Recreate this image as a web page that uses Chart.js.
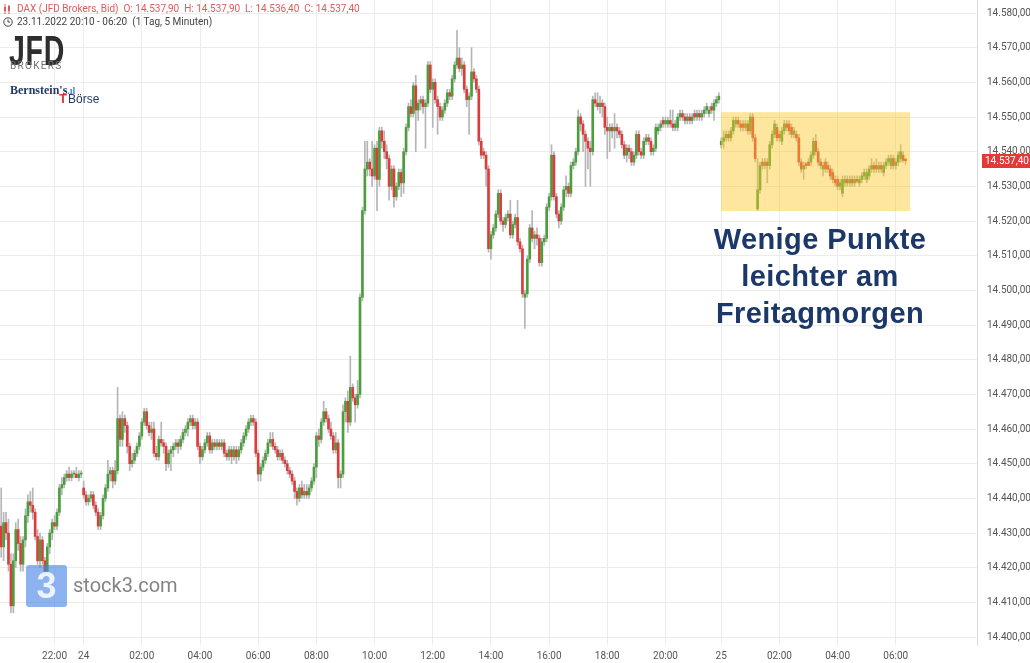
<!DOCTYPE html>
<html lang="de">
<head>
<meta charset="utf-8">
<title>DAX 5 Minuten</title>
<script src="https://cdn.jsdelivr.net/npm/chart.js@4.4.1/dist/chart.umd.min.js"></script>
<style>
  html, body { margin: 0; padding: 0; background: #fff; }
  #wrap { position: relative; width: 1030px; height: 663px; overflow: hidden; font-family: "Roboto", "Liberation Sans", sans-serif; }
  #chart { position: absolute; left: 0; top: 0; }
  .hdr { position: absolute; left: 3px; font-size: 10px; white-space: pre; display: flex; align-items: center; gap: 4px; }
  #hdr1 { top: 3px; color: #e05a5a; }
  #hdr2 { top: 16px; color: #444; }
  #jfd { position: absolute; left: 9px; top: 27px; font: bold 42px "Liberation Sans", sans-serif; color: #2e2e2e; transform: scaleX(0.68); transform-origin: left top; letter-spacing: 1px; }
  #brokers { position: absolute; left: 10px; top: 60px; font-size: 10px; color: #707070; letter-spacing: 1.3px; }
  #bern { position: absolute; left: 10px; top: 83px; font: bold 12px "Liberation Serif", serif; color: #1f3b60; }
  #boerse-t { position: absolute; left: 59px; top: 91px; font: bold 13px "Liberation Sans", sans-serif; color: #d83a3a; }
  #boerse { position: absolute; left: 68px; top: 92px; font: 12px "Liberation Sans", sans-serif; color: #1f3b60; }
  #note { position: absolute; left: 698px; top: 221px; width: 244px; text-align: center; font: bold 29px "Liberation Sans", sans-serif; line-height: 37px; color: #1b3868; letter-spacing: 0.4px; }
  #wm-box { position: absolute; left: 26px; top: 565px; width: 41px; height: 42px; border-radius: 3px; background: rgba(70, 130, 230, 0.62); color: rgba(255,255,255,0.85); font: bold 36px "Liberation Sans", sans-serif; text-align: center; line-height: 42px; }
  #wm-text { position: absolute; left: 73px; top: 573px; font: 20px "Roboto", sans-serif; color: rgba(110,110,110,0.85); }
</style>
</head>
<body>
<div id="wrap">
  <canvas id="chart" width="1030" height="663"></canvas>
  <div class="hdr" id="hdr1"><svg width="10" height="10" viewBox="0 0 10 10"><path d="M2 0v10M6 1v9" stroke="#e05a5a" stroke-width="1"/><rect x="1" y="3" width="2" height="4" fill="#e05a5a"/><rect x="5" y="2" width="2" height="5" fill="#e05a5a"/></svg><span id="hdrText"></span></div>
  <div class="hdr" id="hdr2"><svg width="10" height="10" viewBox="0 0 10 10"><circle cx="5" cy="5" r="4.2" fill="none" stroke="#444" stroke-width="1"/><path d="M5 2.5V5h2" fill="none" stroke="#444" stroke-width="1"/></svg><span>23.11.2022 20:10 - 06:20  (1 Tag, 5 Minuten)</span></div>
  <div id="jfd">JFD</div>
  <div id="brokers">BROKERS</div>
  <div id="bern">Bernstein's<span style="color:#3a8fd8;font-size:10px">.ıl</span></div>
  <div id="boerse-t">T</div>
  <div id="boerse">Börse</div>
  <div id="note">Wenige Punkte<br>leichter am<br>Freitagmorgen</div>
  <div id="wm-box">3</div>
  <div id="wm-text">stock3.com</div>
</div>
<script>
// Handelssitzungen (Tag, Start, Anzahl 5-Minuten-Kerzen)
const sessionDays = ["23", "24", "25"];
const sessionStarts = ["20:10", "00:00", "00:00"];
const sessionCounts = [34, 263, 77];
const emptySlots = 29;

const tickTimes = ["23 22:00", "24 00:00", "24 02:00", "24 04:00", "24 06:00", "24 08:00", "24 10:00", "24 12:00",
  "24 14:00", "24 16:00", "24 18:00", "24 20:00", "25 00:00", "25 02:00", "25 04:00", "25 06:00"];
const tickNames = ["22:00", "24", "02:00", "04:00", "06:00", "08:00", "10:00", "12:00",
  "14:00", "16:00", "18:00", "20:00", "25", "02:00", "04:00", "06:00"];
const priceTicks = [14400, 14410, 14420, 14430, 14440, 14450, 14460, 14470, 14480, 14490,
  14500, 14510, 14520, 14530, 14540, 14550, 14560, 14570, 14580];

const opens = [
  14432,14426,14433,14430,14421,14409,14422,14431,14427,14421,
  14428,14435,14439,14438,14436,14429,14422,14428,14422,14419,14426,14430,
  14433,14432,14436,14443,14444,14446,14447,14446,14447,14447,14446,14447,
  14443,14441,14439,14440,14441,14438,14436,14432,14435,14440,14443,14447,
  14448,14445,14448,14463,14457,14463,14461,14455,14450,14451,14453,14455,
  14458,14462,14465,14461,14459,14460,14453,14452,14457,14456,14455,14450,
  14453,14454,14455,14456,14455,14457,14459,14460,14462,14463,14461,14462,
  14455,14452,14454,14456,14458,14454,14456,14455,14456,14455,14456,14453,
  14452,14454,14452,14454,14452,14454,14456,14458,14460,14462,14463,14462,
  14453,14447,14449,14451,14453,14456,14457,14455,14454,14452,14453,14451,
  14450,14448,14447,14445,14442,14440,14443,14441,14442,14441,14443,14445,
  14449,14458,14457,14462,14465,14463,14460,14458,14454,14456,14446,14447,
  14465,14468,14462,14472,14469,14467,14470,14498,14523,14535,14537,14535,
  14533,14541,14532,14546,14543,14540,14538,14530,14535,14527,14530,14534,
  14531,14540,14547,14553,14551,14559,14552,14554,14555,14553,14554,14565,
  14558,14560,14555,14553,14550,14552,14554,14557,14556,14561,14565,14567,
  14564,14565,14558,14555,14556,14563,14561,14558,14543,14540,14539,14535,
  14512,14516,14518,14522,14528,14520,14519,14521,14522,14516,14519,14521,
  14514,14512,14498,14499,14509,14518,14515,14516,14515,14508,14514,14515,
  14524,14527,14539,14527,14522,14520,14524,14529,14530,14528,14536,14537,
  14540,14550,14548,14545,14543,14541,14540,14555,14554,14553,14554,14553,
  14547,14546,14547,14546,14547,14546,14545,14542,14539,14541,14540,14537,
  14539,14545,14540,14539,14543,14544,14543,14540,14541,14546,14547,14549,
  14548,14548,14549,14548,14547,14547,14550,14551,14550,14549,14550,14549,
  14551,14550,14551,14550,14551,14552,14551,14553,14552,14554,14555,
  14542,14543,14544,14545,14544,14546,14548,14549,14548,14548,14547,14548,
  14546,14550,14544,14523.5,14529,14537,14536,14537,14536,14542,14545,14547,
  14545,14543,14546,14548,14548,14547,14545,14545,14544,14537,14535,14536.5,
  14537,14537,14539,14543,14540,14537,14535,14537,14536,14535,14534,14532,
  14532,14530,14528,14531,14532,14531,14532,14531,14532,14531,14532,14533,
  14532,14533,14535,14536,14536,14535,14536,14534,14536,14537,14536,14538,
  14536,14537,14538,14539,14537.9
];
const highs = [
  14443,14436,14436,14434,14424,14424,14433,14434,14429,14429,
  14437,14441,14442,14443,14437,14431,14430,14429,14423,14427,14431,14434,
  14435,14437,14444,14446,14447,14448,14449,14448,14448,14449,14448,14448,
  14445,14442,14441,14442,14442,14439,14437,14436,14441,14444,14451,14449,
  14449,14451,14472,14464,14465,14464,14462,14456,14453,14454,14456,14459,
  14463,14466,14466,14462,14462,14462,14455,14458,14462,14457,14456,14454,
  14455,14456,14457,14457,14458,14460,14461,14463,14464,14464,14463,14463,
  14456,14455,14457,14459,14459,14457,14457,14457,14457,14457,14457,14454,
  14455,14455,14455,14455,14455,14457,14459,14461,14463,14464,14464,14463,
  14454,14450,14452,14454,14457,14459,14459,14456,14455,14454,14454,14452,
  14451,14449,14448,14446,14443,14444,14445,14444,14444,14444,14446,14450,
  14459,14460,14463,14468,14466,14464,14462,14459,14459,14457,14448,14467,
  14469,14471,14481,14473,14470,14474,14499,14524,14543,14543,14538,14543,
  14542,14543,14547,14547,14546,14542,14539,14536,14536,14531,14535,14535,
  14541,14548,14554,14555,14560,14562,14555,14556,14556,14555,14566,14566,
  14561,14561,14556,14554,14553,14555,14558,14558,14562,14566,14575,14570,
  14567,14566,14559,14557,14570,14564,14562,14559,14544,14541,14540,14536,
  14517,14519,14523,14529,14529,14521,14522,14523,14526,14520,14522,14526,
  14515,14513,14500,14510,14519,14523,14517,14518,14516,14515,14516,14525,
  14528,14542,14540,14528,14523,14525,14530,14533,14531,14537,14538,14541,
  14552,14551,14549,14546,14544,14543,14556,14557,14557,14556,14555,14554,
  14550,14548,14548,14551,14548,14547,14546,14543,14542,14542,14541,14540,
  14546,14546,14541,14544,14545,14545,14544,14542,14548,14548,14549,14550,
  14550,14550,14552,14552,14549,14551,14552,14552,14551,14551,14551,14551,
  14552,14552,14552,14552,14553,14554,14553,14554,14555,14556,14557,
  14544,14546,14546,14546,14547,14550,14550,14550,14549,14549,14549,14549,
  14551,14551,14545,14538,14537,14538,14538,14538,14543,14546,14549,14548,
  14546,14547,14549,14549,14549,14548,14547,14546,14545,14538,14537,14537,
  14538,14540,14544,14545,14541,14538,14537,14538,14537,14536,14535,14533,
  14533,14532,14533,14533,14533,14533,14533,14533,14533,14533,14534,14535,
  14535,14536,14538,14537,14538,14537,14537,14537,14538,14539,14539,14539,
  14538,14540,14542,14540,14537.9
];
const lows = [
  14423,14422,14428,14419,14407,14407,14420,14425,14419,14419,
  14426,14433,14436,14434,14428,14421,14420,14421,14418,14418,14424,14428,
  14431,14431,14435,14441,14443,14445,14445,14445,14446,14446,14445,14446,
  14440,14438,14438,14439,14437,14435,14431,14431,14434,14439,14442,14445,
  14443,14444,14447,14455,14455,14459,14453,14448,14449,14450,14452,14454,
  14457,14461,14460,14458,14457,14452,14451,14451,14455,14453,14448,14449,
  14448,14452,14454,14453,14454,14456,14458,14458,14461,14460,14460,14454,
  14450,14451,14453,14455,14453,14453,14454,14454,14454,14454,14452,14451,
  14451,14450,14451,14450,14451,14453,14455,14457,14459,14461,14461,14452,
  14445,14445,14448,14450,14452,14455,14454,14453,14451,14451,14450,14449,
  14447,14446,14444,14440,14438,14439,14440,14440,14440,14440,14442,14444,
  14446,14455,14456,14461,14462,14459,14457,14453,14453,14443,14443,14446,
  14462,14459,14461,14468,14462,14466,14469,14497,14522,14533,14533,14530,
  14532,14523,14530,14541,14538,14535,14526,14529,14524,14526,14529,14527,
  14528,14539,14546,14550,14550,14540,14549,14552,14551,14541,14553,14557,
  14547,14554,14545,14549,14549,14551,14553,14555,14555,14560,14564,14563,
  14562,14557,14553,14545,14555,14560,14557,14542,14538,14538,14530,14511,
  14509,14515,14517,14521,14519,14517,14518,14520,14515,14515,14518,14513,
  14511,14498,14489,14498,14508,14514,14512,14513,14507,14507,14513,14514,
  14523,14526,14526,14521,14518,14519,14523,14527,14527,14527,14535,14536,
  14539,14546,14540,14530,14535,14530,14539,14553,14552,14551,14550,14545,
  14538,14540,14544,14541,14544,14544,14541,14538,14537,14538,14536,14536,
  14538,14539,14538,14538,14542,14542,14539,14539,14540,14545,14546,14547,
  14547,14547,14547,14546,14546,14546,14549,14549,14548,14548,14548,14548,
  14549,14549,14549,14549,14550,14551,14550,14551,14549,14553,14554,
  14541,14541,14543,14543,14543,14545,14547,14547,14546,14546,14546,14545,
  14545,14543,14537,14523,14528,14535,14535,14531,14535,14541,14544,14543,
  14543,14542,14545,14546,14545,14544,14544,14543,14536,14534,14532,14535,
  14536,14536,14538,14539,14536,14535,14533,14534,14534,14532,14531,14530,
  14529,14529,14527,14530,14530,14530,14530,14530,14531,14530,14531,14532,
  14531,14532,14534,14534,14534,14534,14534,14533,14535,14536,14535,14535,
  14535,14536,14537,14537,14536.4
];
const closes = [
  14426,14433,14430,14421,14409,14422,14431,14427,14421,14428,
  14435,14439,14438,14436,14429,14422,14428,14422,14419,14426,14430,14433,
  14432,14436,14443,14444,14446,14447,14446,14447,14447,14446,14447,14447,
  14441,14439,14440,14441,14438,14436,14432,14435,14440,14443,14447,14448,
  14445,14448,14463,14457,14463,14461,14455,14450,14451,14453,14455,14458,
  14462,14465,14461,14459,14460,14453,14452,14457,14456,14455,14450,14453,
  14454,14455,14456,14455,14457,14459,14460,14462,14463,14461,14462,14455,
  14452,14454,14456,14458,14454,14456,14455,14456,14455,14456,14453,14452,
  14454,14452,14454,14452,14454,14456,14458,14460,14462,14463,14462,14453,
  14447,14449,14451,14453,14456,14457,14455,14454,14452,14453,14451,14450,
  14448,14447,14445,14442,14440,14443,14441,14442,14441,14443,14445,14449,
  14458,14457,14462,14465,14463,14460,14458,14454,14456,14446,14447,14465,
  14468,14462,14472,14469,14467,14470,14498,14523,14535,14537,14535,14533,
  14541,14532,14546,14543,14540,14538,14530,14535,14527,14530,14534,14531,
  14540,14547,14553,14551,14559,14552,14554,14555,14553,14554,14565,14558,
  14560,14555,14553,14550,14552,14554,14557,14556,14561,14565,14567,14564,
  14565,14558,14555,14556,14563,14561,14558,14543,14539,14539,14535,14512,
  14516,14518,14522,14528,14520,14519,14521,14522,14516,14519,14521,14514,
  14512,14499,14499,14509,14518,14515,14516,14515,14508,14514,14515,14524,
  14527,14539,14527,14522,14520,14524,14529,14530,14528,14536,14537,14540,
  14550,14548,14545,14543,14541,14540,14555,14554,14553,14554,14553,14547,
  14546,14547,14546,14547,14546,14545,14542,14539,14541,14540,14537,14539,
  14545,14540,14539,14543,14544,14543,14540,14541,14547,14547,14548,14548,
  14549,14549,14548,14547,14548,14550,14551,14550,14549,14550,14549,14550,
  14550,14551,14550,14551,14552,14553,14552,14552,14554,14555,14556,
  14543,14544,14545,14544,14546,14549,14549,14548,14547,14547,14548,14546,
  14550,14544,14538,14529,14536,14536,14537,14536,14542,14545,14548,14544,
  14544,14546,14548,14547,14546,14545,14546,14544,14537,14535,14536,14536,
  14536,14539,14543,14540,14537,14536,14536,14535,14535,14533,14532,14531,
  14530,14531,14532,14532,14531,14532,14531,14532,14531.5,14532,14533,14534,
  14534,14535,14536,14535,14535,14536,14535,14536,14537,14538,14538,14536,
  14537,14539,14540,14537.5,14537.4
];

// Markierter Bereich Freitagmorgen
const boxFrom = 296.9, boxTo = 374.9, boxTop = 14551.4, boxBottom = 14522.9;
const yMin = 14397.7, yMax = 14583.75;

function fmt(v) {
  const parts = v.toFixed(2).split(".");
  return parts[0].replace(/\B(?=(\d{3})+(?!\d))/g, ".") + "," + parts[1];
}

const categories = [];
sessionDays.forEach((day, s) => {
  let [h, m] = sessionStarts[s].split(":").map(Number);
  for (let k = 0; k < sessionCounts[s]; k++) {
    categories.push(day + " " + String(h).padStart(2, "0") + ":" + String(m).padStart(2, "0"));
    m += 5;
    if (m === 60) { m = 0; h++; }
  }
});
for (let k = 0; k < emptySlots; k++) categories.push("");

const last = closes.length - 1;
document.getElementById("hdrText").textContent =
  "DAX (JFD Brokers, Bid)  O: " + fmt(opens[last]) + "  H: " + fmt(highs[last]) +
  "  L: " + fmt(lows[last]) + "  C: " + fmt(closes[last]);

const wickData = lows.map((l, i) => [l, highs[i]]);
const bodyData = opens.map((o, i) => [o, closes[i]]);
const bodyColors = opens.map((o, i) => closes[i] >= o ? "#4a9f3c" : "#dc3c3c");

const overlay = {
  id: "overlay",
  afterDatasetsDraw(chart) {
    const { ctx, scales: { x, y } } = chart;
    const x1 = x.getPixelForValue(boxFrom), x2 = x.getPixelForValue(boxTo);
    const y1 = y.getPixelForValue(boxTop), y2 = y.getPixelForValue(boxBottom);
    ctx.save();
    ctx.fillStyle = "rgba(252, 200, 40, 0.45)";
    ctx.fillRect(x1, y1, x2 - x1, y2 - y1);
    ctx.restore();
  },
  afterDraw(chart) {
    const { ctx, chartArea, scales: { y } } = chart;
    const py = Math.round(y.getPixelForValue(closes[last]));
    ctx.save();
    ctx.fillStyle = "#e53935";
    ctx.fillRect(chartArea.right + 5, py - 7, 1030 - chartArea.right - 5, 14);
    ctx.fillStyle = "#fff";
    ctx.font = "10px Roboto, sans-serif";
    ctx.textBaseline = "middle";
    ctx.fillText(fmt(closes[last]), chartArea.right + 8, py + 0.5);
    ctx.restore();
  }
};

new Chart(document.getElementById("chart"), {
  type: "bar",
  data: {
    labels: categories,
    datasets: [
      { label: "Docht", data: wickData, backgroundColor: "#b5b5b5", barThickness: 1, grouped: false, order: 2 },
      { label: "Kerze", data: bodyData, backgroundColor: bodyColors, barThickness: 2, minBarLength: 1, grouped: false, order: 1 }
    ]
  },
  options: {
    responsive: false,
    animation: false,
    events: [],
    layout: { padding: 0 },
    plugins: { legend: { display: false }, tooltip: { enabled: false } },
    scales: {
      x: {
        type: "category",
        offset: true,
        grid: { offset: false, color: "#ececec", drawTicks: false },
        border: { display: false },
        ticks: {
          autoSkip: false,
          maxRotation: 0,
          padding: 5,
          color: "#555",
          font: { size: 10, family: "Roboto" },
          callback(value, index) {
            const pos = tickTimes.indexOf(categories[index]);
            return pos >= 0 ? tickNames[pos] : null;
          }
        },
        afterFit(scale) {
          scale.height = 18;
          scale.paddingLeft = 0;
          scale.paddingRight = 0;
        }
      },
      y: {
        position: "right",
        min: yMin,
        max: yMax,
        grid: { color: "#ececec", drawTicks: false },
        border: { display: true, color: "#dcdcdc" },
        afterBuildTicks(scale) { scale.ticks = priceTicks.map(v => ({ value: v })); },
        ticks: {
          padding: 10,
          color: "#555",
          font: { size: 10, family: "Roboto" },
          callback: v => fmt(v)
        },
        afterFit(scale) {
          scale.width = 53;
          scale.paddingTop = 0;
          scale.paddingBottom = 0;
        }
      }
    }
  },
  plugins: [overlay]
});
</script>
</body>
</html>
